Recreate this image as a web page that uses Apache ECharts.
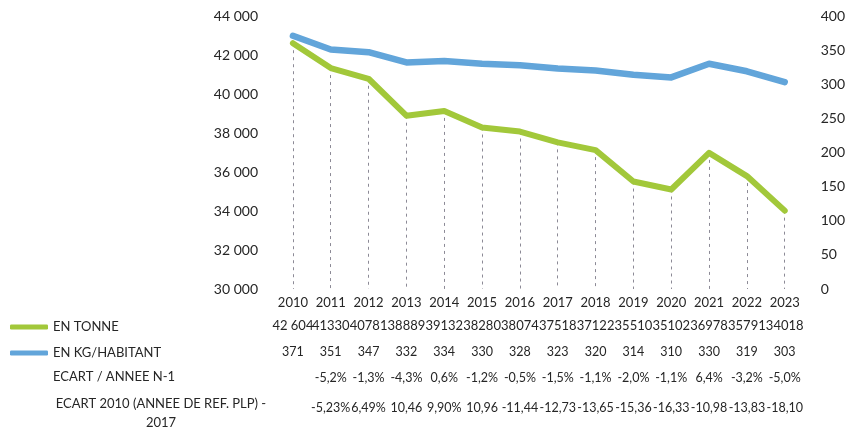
<!DOCTYPE html>
<html>
<head>
<meta charset="utf-8">
<script src="https://cdn.jsdelivr.net/npm/echarts@6/dist/echarts.min.js"></script>
<style>
html,body{margin:0;padding:0;background:#fff;}
#chart{width:848px;height:430px;}
</style>
</head>
<body>
<div id="chart"></div>
<script>
const years = ['2010','2011','2012','2013','2014','2015','2016','2017','2018','2019','2020','2021','2022','2023'];
const tonnes = [42604, 41330, 40781, 38889, 39132, 38280, 38074, 37518, 37122, 35510, 35102, 36978, 35791, 34018];
const kgHab = [371, 351, 347, 332, 334, 330, 328, 323, 320, 314, 310, 330, 319, 303];
const ecartN1 = ['', '-5,2%', '-1,3%', '-4,3%', '0,6%', '-1,2%', '-0,5%', '-1,5%', '-1,1%', '-2,0%', '-1,1%', '6,4%', '-3,2%', '-5,0%'];
const ecart2010 = ['', '-5,23%', '6,49%', '10,46', '9,90%', '10,96', '-11,44', '-12,73', '-13,65', '-15,36', '-16,33', '-10,98', '-13,83', '-18,10'];
const leftAxis = {min: 30000, max: 44000, interval: 2000};
const rightAxis = {min: 0, max: 400, interval: 50};

const FONT = 'Lato';
const TXT = '#262626';
const GREEN = '#a2c83a';
const BLUE = '#62a5da';

const tonneLabels = tonnes.map((v, i) => i === 0 ? String(v).replace(/(\d{2})(\d{3})/, '$1 $2') : String(v));

function rowAxis(data, offset, size) {
  return {
    type: 'category', data: data, position: 'bottom', offset: offset, gridIndex: 0,
    axisLine: {show: false}, axisTick: {show: false}, splitLine: {show: false},
    axisLabel: {show: true, interval: 0, margin: 0, fontFamily: FONT, fontSize: size || 12.5, color: TXT}
  };
}

const chart = echarts.init(document.getElementById('chart'));
chart.setOption({
  animation: false,
  backgroundColor: '#fff',
  grid: {left: 274, right: 43, top: 16, bottom: 141, containLabel: false},
  legend: {
    orient: 'vertical', left: 5, top: 314, itemGap: 10,
    icon: 'roundRect', itemWidth: 38, itemHeight: 5, selectedMode: false,
    textStyle: {fontFamily: FONT, fontSize: 13, color: TXT, lineHeight: 16},
    data: ['EN TONNE', 'EN KG/HABITANT']
  },
  xAxis: [
    {
      type: 'category', data: years, boundaryGap: true,
      axisLine: {show: false}, axisTick: {show: false}, splitLine: {show: false},
      axisLabel: {interval: 0, margin: 7, fontFamily: FONT, fontSize: 13, color: TXT}
    },
    rowAxis(tonneLabels, 30, 13),
    rowAxis(kgHab.map(String), 56),
    rowAxis(ecartN1, 82),
    rowAxis(ecart2010, 112)
  ],
  yAxis: [
    {
      type: 'value', min: leftAxis.min, max: leftAxis.max, interval: leftAxis.interval,
      axisLine: {show: false}, axisTick: {show: false}, splitLine: {show: false},
      axisLabel: {margin: 16, fontFamily: FONT, fontSize: 14, color: TXT,
        formatter: v => String(v).replace(/(\d{2})(\d{3})$/, '$1 $2')}
    },
    {
      type: 'value', min: rightAxis.min, max: rightAxis.max, interval: rightAxis.interval, position: 'right',
      axisLine: {show: false}, axisTick: {show: false}, splitLine: {show: false},
      axisLabel: {margin: 17, fontFamily: FONT, fontSize: 14, color: TXT}
    }
  ],
  series: [
    {
      name: 'EN TONNE', type: 'line', xAxisIndex: 0, yAxisIndex: 0, data: tonnes,
      symbol: 'none', color: GREEN, z: 3,
      lineStyle: {width: 6, color: GREEN, cap: 'round', join: 'round'},
      markLine: {
        silent: true, symbol: ['none', 'none'], animation: false, z: 2,
        label: {show: false},
        lineStyle: {type: [3, 4], color: '#8c8a96', width: 1},
        data: tonnes.map((v, i) => [{coord: [years[i], v]}, {coord: [years[i], leftAxis.min]}])
      }
    },
    {
      name: 'EN KG/HABITANT', type: 'line', xAxisIndex: 0, yAxisIndex: 1, data: kgHab,
      symbol: 'none', color: BLUE, z: 3,
      lineStyle: {width: 6.5, color: BLUE, cap: 'round', join: 'round'}
    }
  ],
  graphic: [
    {type: 'text', left: 53, top: 370, style: {text: 'ECART / ANNEE N-1', font: '13px Lato', fill: TXT}},
    {type: 'text', x: 161, y: 394, style: {text: 'ECART 2010 (ANNEE DE REF. PLP) -\n2017', font: '13px Lato', fill: TXT, textAlign: 'center', lineHeight: 19}}
  ]
});
</script>
</body>
</html>
